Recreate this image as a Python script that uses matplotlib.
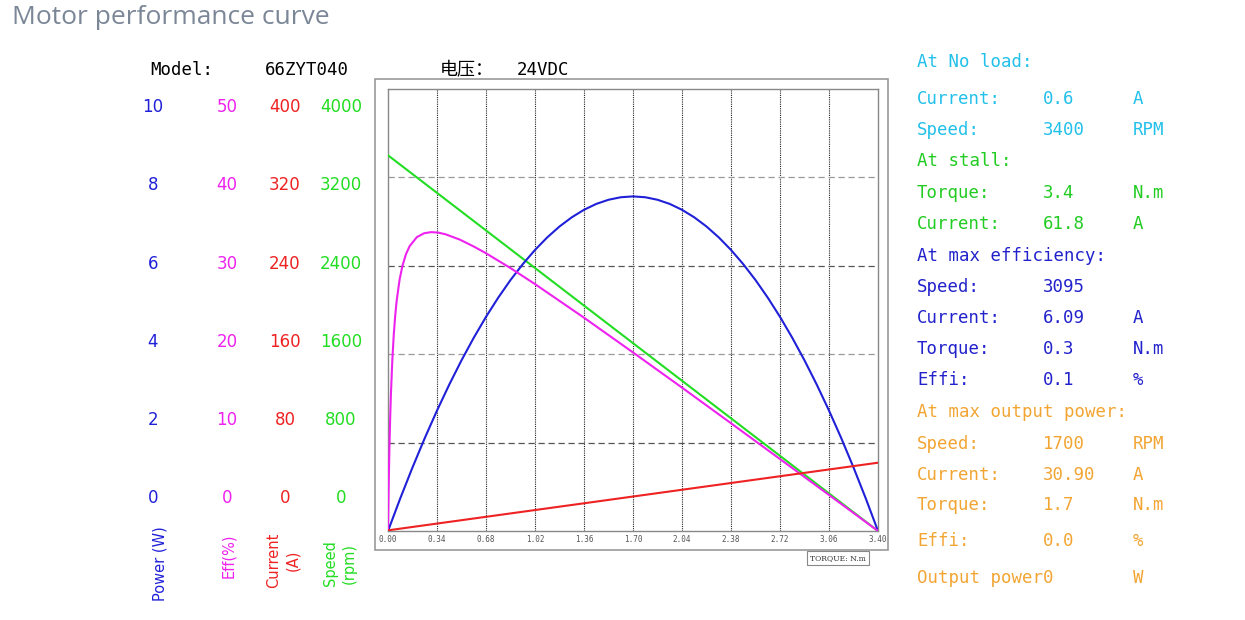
import matplotlib
matplotlib.use("Agg")
import matplotlib.pyplot as plt
from matplotlib.patches import Rectangle

# Curve data (torque in N.m)
torque_grid = [0.00, 0.34, 0.68, 1.02, 1.36, 1.70, 2.04, 2.38, 2.72, 3.06, 3.40]
speed_rpm = [3400, 3060, 2720, 2380, 2040, 1700, 1360, 1020, 680, 340, 0]
current_a = [0.6, 6.72, 12.84, 18.96, 25.08, 31.2, 37.32, 43.44, 49.56, 55.68, 61.8]

torque_pow = [0.000, 0.085, 0.170, 0.255, 0.340, 0.425, 0.510, 0.595, 0.680, 0.765,
              0.850, 0.935, 1.020, 1.105, 1.190, 1.275, 1.360, 1.445, 1.530, 1.615,
              1.700, 1.785, 1.870, 1.955, 2.040, 2.125, 2.210, 2.295, 2.380, 2.465,
              2.550, 2.635, 2.720, 2.805, 2.890, 2.975, 3.060, 3.145, 3.230, 3.315, 3.400]
power_w = [0, 0.738, 1.438, 2.101, 2.725, 3.312, 3.861, 4.372, 4.845, 5.280,
           5.678, 6.037, 6.359, 6.643, 6.889, 7.097, 7.267, 7.400, 7.494, 7.551,
           7.570, 7.551, 7.494, 7.400, 7.267, 7.097, 6.889, 6.643, 6.359, 6.037,
           5.678, 5.280, 4.845, 4.372, 3.861, 3.312, 2.725, 2.101, 1.438, 0.738, 0]

torque_eff = [0.000, 0.005, 0.010, 0.015, 0.020, 0.030, 0.040, 0.050, 0.060, 0.080,
              0.100, 0.125, 0.150, 0.200, 0.250, 0.300, 0.350, 0.400, 0.500, 0.600,
              0.680, 0.850, 1.020, 1.360, 1.700, 2.040, 2.380, 2.720, 3.060, 3.400]
eff_pct = [0, 5.37, 9.49, 12.74, 15.36, 19.35, 22.21, 24.36, 26.02, 28.40,
           29.99, 31.33, 32.22, 33.24, 33.68, 33.81, 33.75, 33.56, 32.95, 32.14,
           31.42, 29.74, 27.93, 24.13, 20.20, 16.22, 12.19, 8.14, 4.08, 0]

# left-side scale labels
power_ticks = ["10", "8", "6", "4", "2", "0"]
eff_ticks = ["50", "40", "30", "20", "10", "0"]
current_ticks = ["400", "320", "240", "160", "80", "0"]
speed_ticks = ["4000", "3200", "2400", "1600", "800", "0"]
torque_ticks = ["0.00", "0.34", "0.68", "1.02", "1.36", "1.70",
                "2.04", "2.38", "2.72", "3.06", "3.40"]

# info panel on the right: (label, value, unit, colour)
CYAN, GREEN, BLUE, ORANGE = "#22c0ea", "#22cc22", "#2222cc", "#f2a533"
info_rows = [
    ("At No load:", "", "", CYAN),
    ("Current:", "0.6", "A", CYAN),
    ("Speed:", "3400", "RPM", CYAN),
    ("At stall:", "", "", GREEN),
    ("Torque:", "3.4", "N.m", GREEN),
    ("Current:", "61.8", "A", GREEN),
    ("At max efficiency:", "", "", BLUE),
    ("Speed:", "3095", "", BLUE),
    ("Current:", "6.09", "A", BLUE),
    ("Torque:", "0.3", "N.m", BLUE),
    ("Effi:", "0.1", "%", BLUE),
    ("At max output power:", "", "", ORANGE),
    ("Speed:", "1700", "RPM", ORANGE),
    ("Current:", "30.90", "A", ORANGE),
    ("Torque:", "1.7", "N.m", ORANGE),
    ("Effi:", "0.0", "%", ORANGE),
    ("Output power", "0", "W", ORANGE),
]
info_y = [62, 99, 130, 161, 193, 224, 256, 287, 318, 349, 380, 412, 444, 475, 505, 541, 578]

C_POW, C_EFF, C_CUR, C_SPD = "#2020d8", "#ee22ee", "#ee2222", "#22dd22"
W, H = 1245, 620
MONO = ["DejaVu Sans Mono", "Noto Sans CJK SC"]

fig = plt.figure(figsize=(W / 100, H / 100), dpi=100)


def fx(px):
    return px / W


def fy(py):
    return 1 - py / H


fig.text(fx(12), fy(17), "Motor performance curve", fontsize=19, color="#7b8797",
         family="Open Sans", va="center", ha="left")

# outer frame of the plot
fig.patches.append(Rectangle((fx(375), fy(550)), fx(888) - fx(375), fy(79) - fy(550),
                             transform=fig.transFigure, fill=False,
                             edgecolor="#999999", linewidth=1.2))

ax = fig.add_axes([fx(388), fy(531), fx(878) - fx(388), fy(89) - fy(531)])
ax.set_xlim(0, 3.4)
ax.set_ylim(0, 4000)
ax.set_xticks(torque_grid)
ax.set_xticklabels(torque_ticks, fontsize=5.5, color="#555555", family="DejaVu Sans Mono")
ax.tick_params(axis="x", length=0, pad=3)
ax.set_yticks([])
for s in ax.spines.values():
    s.set_color("#888888")
    s.set_linewidth(1.0)

for t in torque_grid[1:-1]:
    ax.axvline(t, color="#222222", linestyle=(0, (1, 1)), linewidth=0.8, zorder=1)
for i, v in enumerate([800, 1600, 2400, 3200]):
    ax.axhline(v, color="#555555" if i % 2 == 0 else "#999999",
               linestyle=(0, (5, 3)), linewidth=0.9, zorder=1)

# overlay axes for the other scales
axes_specs = [(10, torque_pow, power_w, C_POW), (50, torque_eff, eff_pct, C_EFF),
              (400, torque_grid, current_a, C_CUR)]
for ymax, xs, ys, col in axes_specs:
    tw = ax.twinx()
    tw.set_ylim(0, ymax)
    tw.set_yticks([])
    tw.axis("off")
    tw.plot(xs, ys, color=col, linewidth=1.5, solid_capstyle="round",
            solid_joinstyle="round")
ax.plot(torque_grid, speed_rpm, color=C_SPD, linewidth=1.5, zorder=3)

# torque label box
fig.text(fx(838), fy(558), "TORQUE: N.m", fontsize=5.5, family="DejaVu Serif",
         color="#333333", ha="center", va="center",
         bbox=dict(boxstyle="square,pad=0.35", facecolor="white",
                   edgecolor="#888888", linewidth=0.8))

# header texts
fig.text(fx(150), fy(70), "Model:", fontsize=12.5, family=MONO, va="center")
fig.text(fx(265), fy(70), "66ZYT040", fontsize=12.5, family=MONO, va="center")
fig.text(fx(440), fy(70), "电压：", fontsize=13, family=MONO, va="center")
fig.text(fx(517), fy(70), "24VDC", fontsize=12.5, family=MONO, va="center")

# left scale columns
rows_y = [107, 185, 264, 342, 420, 498]
for col_x, labels, col in [(153, power_ticks, C_POW), (227, eff_ticks, C_EFF),
                           (285, current_ticks, C_CUR), (341, speed_ticks, C_SPD)]:
    for lab, yy in zip(labels, rows_y):
        fig.text(fx(col_x), fy(yy), lab, fontsize=12, color=col,
                 ha="center", va="center")

fig.text(fx(160), fy(564), "Power (W)", fontsize=10.5, color=C_POW, rotation=90,
         ha="center", va="center")
fig.text(fx(229), fy(556), "Eff(%)", fontsize=10.5, color=C_EFF, rotation=90,
         ha="center", va="center")
fig.text(fx(283), fy(560), "Current\n(A)", fontsize=10.5, color=C_CUR, rotation=90,
         ha="center", va="center", linespacing=1.3)
fig.text(fx(340), fy(563), "Speed\n(rpm)", fontsize=10.5, color=C_SPD, rotation=90,
         ha="center", va="center", linespacing=1.3)

# right info panel
for (lab, val, unit, col), yy in zip(info_rows, info_y):
    fig.text(fx(917), fy(yy), lab, fontsize=12.5, color=col, family=MONO, va="center")
    if val:
        fig.text(fx(1043), fy(yy), val, fontsize=12.5, color=col, family=MONO, va="center")
    if unit:
        fig.text(fx(1133), fy(yy), unit, fontsize=12.5, color=col, family=MONO, va="center")

fig.savefig("out.png", dpi=100)
